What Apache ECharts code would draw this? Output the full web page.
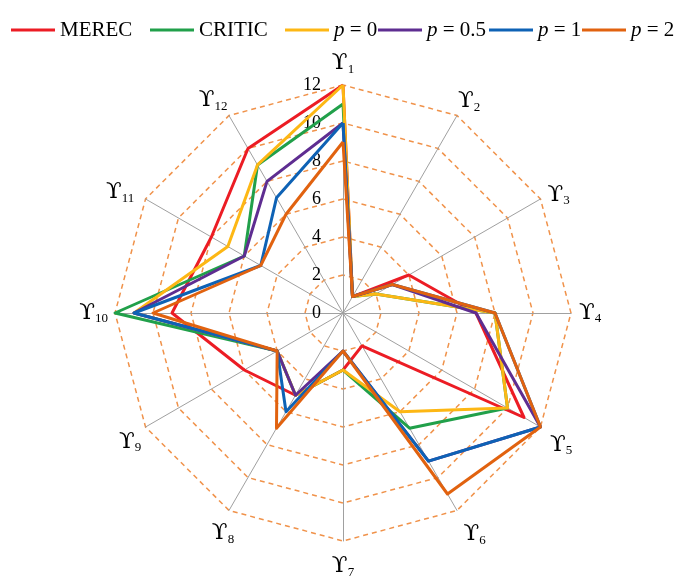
<!DOCTYPE html>
<html><head><meta charset="utf-8">
<script src="https://cdn.jsdelivr.net/npm/echarts@6/dist/echarts.min.js"></script>
<style>html,body{margin:0;padding:0;background:#fff}#c{width:681px;height:577px}</style>
</head><body><div id="c"></div>
<script>
// Indicators Υ1..Υ12 (clockwise from top in the reference)
const categories = ['1','2','3','4','5','6','7','8','9','10','11','12'];
const seriesNames = ['MEREC','CRITIC','p = 0','p = 0.5','p = 1','p = 2'];
const merec = [12,1,4,7,11,2,3,5,6,9,8,10];
const critic = [11,1,2,8,10,7,3,5,4,12,6,9];
const p0 = [12,1,2,8,10,6,3,5,4,11,7,9];
const p05 = [10,1,3,7,12,9,2,5,4,11,6,8];
const p1 = [10,1,3,8,12,9,2,6,4,11,5,7];
const p2 = [9,1,3,8,12,11,2,7,4,10,5,6];
const tickLabels = ['0','2','4','6','8','10','12'];
const scaleMax = 12;

const allValues = [merec, critic, p0, p05, p1, p2];
const colors = ['#EC1C24','#21A04A','#FDB714','#5E2D91','#0E62B5','#E1620F'];
const legendLefts = [11, 150, 285, 378, 489, 582];

// per-indicator name placement (styling only)
const nameLayout = [
  { gap: 9 },
  { gap: 2, align: 'left', v: 'bottom' },
  { gap: 8 },
  { gap: 8 },
  { gap: 11, align: 'left', v: 'top' },
  { gap: 13, align: 'left', v: 'top' },
  { gap: 13 },
  { gap: 12, align: 'center', v: 'top' },
  { gap: 5, align: 'right', v: 'top' },
  { gap: 7 },
  { gap: 13, align: 'right', v: 'middle' },
  { gap: 3, align: 'right', v: 'bottom' }
];

// ECharts radar runs counter-clockwise; reorder for clockwise layout
const order = [0];
for (let i = categories.length - 1; i >= 1; i--) order.push(i);

const indicator = order.map((idx, k) => {
  const L = nameLayout[idx];
  const o = { name: categories[idx], max: scaleMax, min: 0, nameGap: L.gap };
  const ts = {};
  if (L.align) ts.align = L.align;
  if (L.v) ts.verticalAlign = L.v;
  o.nameTextStyle = ts;
  if (k === 0) o.axisLabel = { show: true };
  return o;
});

const FONT = "'Liberation Serif', 'DejaVu Serif', serif";

function legendText(name) {
  if (name.indexOf('p = ') === 0) return '{i|p}{n|' + name.slice(1) + '}';
  return '{n|' + name + '}';
}

const legends = seriesNames.map((n, i) => ({
  data: [n],
  left: legendLefts[i],
  top: 19.5,
  padding: 0,
  itemWidth: 44,
  itemHeight: 3,
  itemGap: 0,
  icon: 'rect',
  formatter: legendText,
  textStyle: {
    fontFamily: FONT, fontSize: 21, color: '#000',
    rich: {
      i: { fontFamily: FONT, fontSize: 21, fontStyle: 'italic', color: '#000' },
      n: { fontFamily: FONT, fontSize: 21, color: '#000' }
    }
  }
}));

const option = {
  backgroundColor: '#fff',
  animation: false,
  color: colors,
  legend: legends,
  radar: {
    center: [343, 313],
    radius: 228,
    startAngle: 90,
    splitNumber: 6,
    shape: 'polygon',
    indicator: indicator,
    nameGap: 8,
    axisName: {
      formatter: (name) => '{a|\u03D2}{b|' + name + '}',
      rich: {
        a: { fontFamily: "'DejaVu Serif', serif", fontSize: 23, color: '#000', lineHeight: 25 },
        b: { fontFamily: FONT, fontSize: 13, color: '#000', lineHeight: 12, verticalAlign: 'bottom' }
      }
    },
    axisLine: { show: true, lineStyle: { color: '#A0A0A0', width: 1 } },
    axisTick: { show: false },
    axisLabel: {
      show: false,
      margin: 22,
      fontFamily: FONT, fontSize: 18, color: '#000',
      formatter: (v) => {
        const s = String(Math.round(v));
        return tickLabels.indexOf(s) >= 0 ? s : '';
      }
    },
    splitLine: { show: true, lineStyle: { color: '#F0924A', width: 1.5, type: [5, 4] } },
    splitArea: { show: false }
  },
  series: [{
    type: 'radar',
    symbol: 'none',
    data: allValues.map((vals, i) => ({
      name: seriesNames[i],
      value: order.map(idx => vals[idx]),
      lineStyle: { color: colors[i], width: 3 },
      itemStyle: { color: colors[i] }
    }))
  }]
};

const chart = echarts.init(document.getElementById('c'));
chart.setOption(option);
</script></body></html>
